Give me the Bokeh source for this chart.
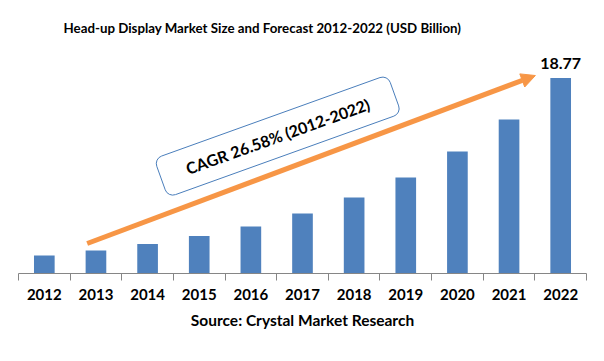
from bokeh.plotting import figure
from bokeh.models import Range1d, FixedTicker, Label, Arrow, NormalHead, ColumnDataSource, Title
from bokeh.embed import file_html
from bokeh.resources import INLINE

years = ["2012", "2013", "2014", "2015", "2016", "2017", "2018", "2019", "2020", "2021", "2022"]
values = [1.73, 2.21, 2.84, 3.61, 4.51, 5.76, 7.30, 9.22, 11.72, 14.79, 18.77]
last_label = "18.77"
cagr_text = "CAGR 26.58% (2012-2022)"
title_text = "Head-up Display Market Size and Forecast 2012-2022 (USD Billion)"
source_text = "Source: Crystal Market Research"

FONT = "Lato"
BAR = "#4F81BD"
ORANGE = "#F79646"

n = len(years)
xs = [i + 0.5 for i in range(n)]
src = ColumnDataSource(dict(x=xs, top=values, year=years))

p = figure(width=604, height=361, output_backend="svg", toolbar_location=None,
           x_range=Range1d(0, n), y_range=Range1d(0, 22),
           min_border_left=18, min_border_right=18, min_border_top=44, min_border_bottom=88)
p.title = None
t = Title(text=title_text, align="left", offset=45, text_font=FONT, text_font_size="13.3px",
          text_font_style="bold", text_color="#000000", standoff=17)
p.add_layout(t, "above")

p.vbar(x="x", top="top", width=0.4, bottom=0, source=src, color=BAR, line_color=None)

p.yaxis.visible = False
p.xgrid.visible = False
p.ygrid.visible = False
p.outline_line_color = None
p.background_fill_color = "white"

ax = p.xaxis[0]
ax.ticker = FixedTicker(ticks=xs, minor_ticks=list(range(n + 1)))
ax.major_label_overrides = {x: y for x, y in zip(xs, years)}
ax.major_tick_line_color = None
ax.major_tick_in = 0
ax.major_tick_out = 0
ax.minor_tick_in = 0
ax.minor_tick_out = 7
ax.minor_tick_line_color = "#868686"
ax.axis_line_color = "#868686"
ax.major_label_text_font = FONT
ax.major_label_text_font_style = "bold"
ax.major_label_text_font_size = "15px"
ax.major_label_text_color = "#000000"
ax.major_label_standoff = 8
ax.axis_label = source_text
ax.axis_label_text_font = FONT
ax.axis_label_text_font_style = "bold"
ax.axis_label_text_font_size = "15.5px"
ax.axis_label_text_color = "#000000"
ax.axis_label_standoff = 8

# value label on last bar
p.add_layout(Label(x=xs[-1], y=values[-1], text=last_label, text_align="center",
                   text_baseline="bottom", y_offset=9, text_font=FONT,
                   text_font_style="bold", text_font_size="16px", text_color="#000000"))

# CAGR arrow
p.add_layout(Arrow(x_start=1.33, y_start=2.88, x_end=10.01, y_end=19.02,
                   line_color=ORANGE, line_width=5,
                   end=NormalHead(size=14, fill_color=ORANGE, line_color=ORANGE, line_width=1)))

# CAGR box
p.add_layout(Label(x=5.02, y=13.2, text=cagr_text, angle=0.345,
                   text_align="center", text_baseline="middle",
                   text_font=FONT, text_font_style="bold", text_font_size="16px",
                   text_color="#000000",
                   background_fill_color="white", border_line_color="#4A7EBB",
                   border_line_width=1, border_radius=8, padding=(27, 11)))

open("out.html", "w").write(file_html(p, INLINE))
